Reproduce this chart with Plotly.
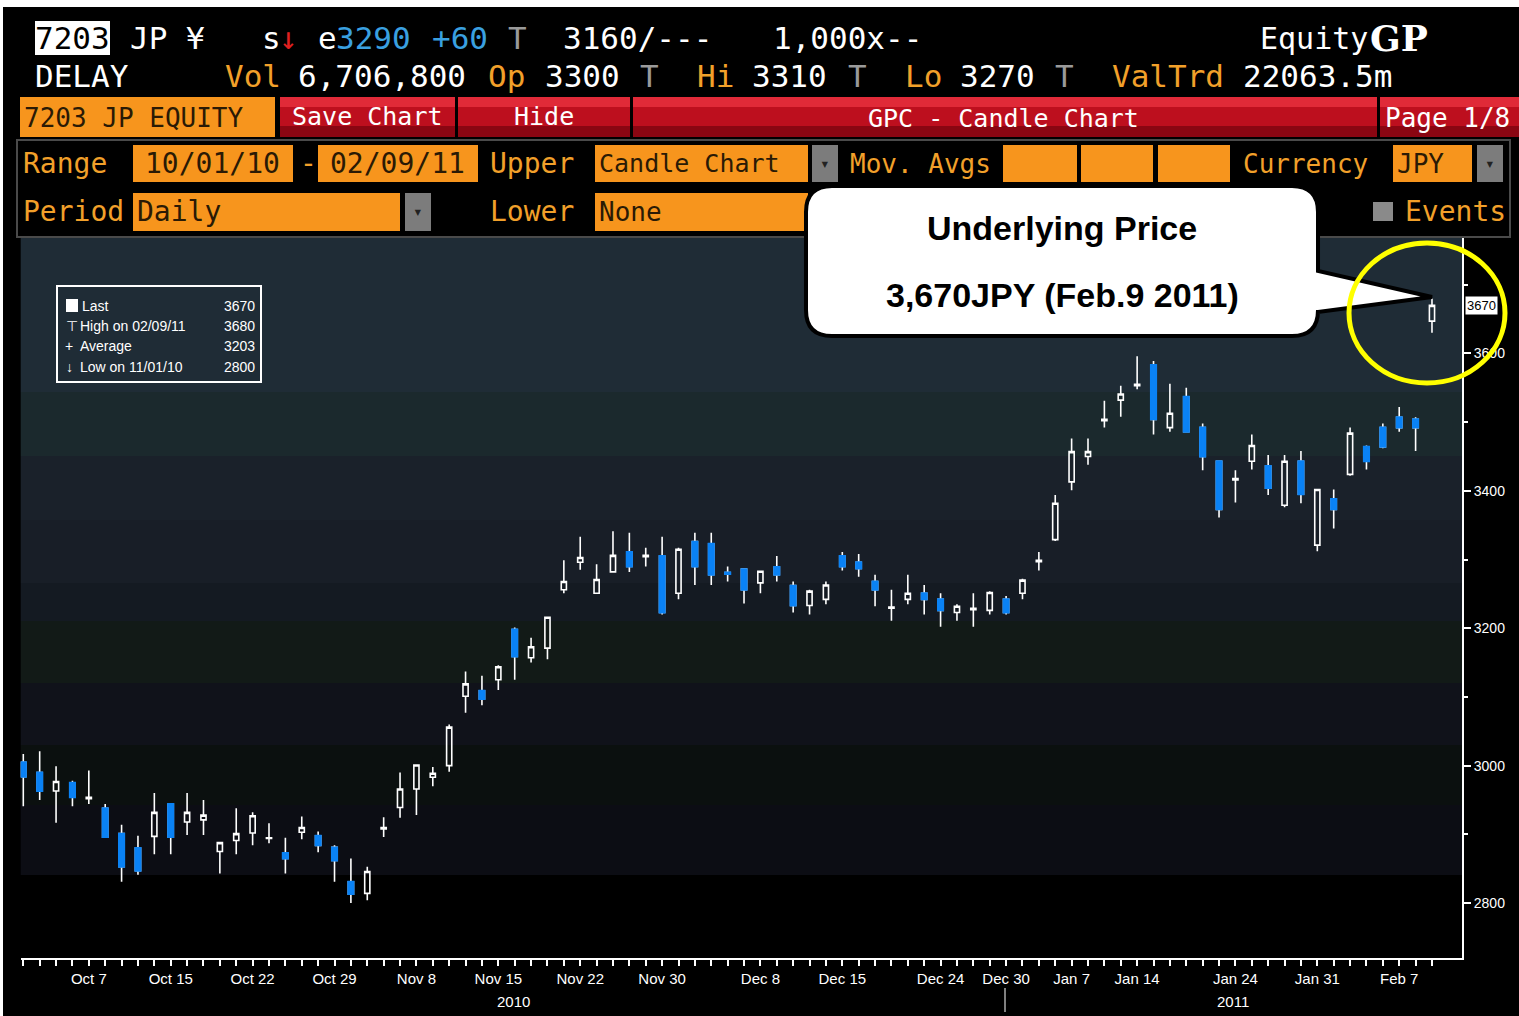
import plotly.graph_objects as go

# ---- data (7203 JP, daily, 10/01/10 - 02/09/11) ----
oct_days = [1, 4, 5, 6, 7, 8, 12, 13, 14, 15, 18, 19, 20, 21, 22, 25, 26, 27, 28, 29]
nov_days = [1, 2, 4, 5, 8, 9, 10, 11, 12, 15, 16, 17, 18, 19, 22, 24, 25, 26, 29, 30]
dec_days = [1, 2, 3, 6, 7, 8, 9, 10, 13, 14, 15, 16, 17, 20, 21, 22, 24, 27, 28, 29, 30]
jan_days = [4, 5, 6, 7, 11, 12, 13, 14, 17, 18, 19, 20, 21, 24, 25, 26, 27, 28, 31]
feb_days = [1, 2, 3, 4, 7, 8, 9]

dates = ([f"2010-10-{d:02d}" for d in oct_days] + [f"2010-11-{d:02d}" for d in nov_days]
         + [f"2010-12-{d:02d}" for d in dec_days] + [f"2011-01-{d:02d}" for d in jan_days]
         + [f"2011-02-{d:02d}" for d in feb_days])

opens = [3005, 2990, 2963, 2975, 2952, 2938, 2901, 2880, 2897, 2944,
         2918, 2921, 2875, 2891, 2902, 2894, 2873, 2903, 2898, 2881,
         2831, 2814, 2908, 2939, 2966, 2983, 3000, 3101, 3109, 3125,
         3198, 3157, 3171, 3256, 3296, 3251, 3282, 3311, 3304, 3305,
         3251, 3326, 3323, 3281, 3286, 3266, 3289, 3262, 3233, 3242,
         3305, 3296, 3268, 3229, 3242, 3251, 3242, 3223, 3227, 3226,
         3242, 3251, 3297, 3329, 3413, 3450, 3502, 3532, 3553, 3583,
         3492, 3537, 3492, 3443, 3416, 3443, 3436, 3379, 3443, 3321,
         3388, 3424, 3464, 3492, 3507, 3504, 3647]
highs = [3017, 3021, 2999, 2978, 2993, 2944, 2914, 2898, 2960, 2944,
         2960, 2950, 2888, 2938, 2932, 2916, 2895, 2926, 2904, 2884,
         2865, 2853, 2925, 2990, 3001, 2998, 3060, 3137, 3131, 3146,
         3201, 3186, 3216, 3299, 3333, 3293, 3341, 3339, 3317, 3333,
         3317, 3339, 3339, 3290, 3286, 3283, 3305, 3268, 3256, 3268,
         3311, 3308, 3278, 3256, 3278, 3263, 3251, 3235, 3251, 3254,
         3247, 3272, 3311, 3394, 3476, 3476, 3531, 3553, 3596, 3589,
         3556, 3550, 3498, 3443, 3430, 3482, 3452, 3452, 3458, 3402,
         3402, 3492, 3466, 3498, 3522, 3507, 3680]
lows = [2941, 2950, 2917, 2941, 2944, 2895, 2831, 2841, 2871, 2871,
        2899, 2899, 2843, 2871, 2884, 2887, 2843, 2893, 2874, 2831,
        2800, 2804, 2896, 2924, 2928, 2970, 2991, 3077, 3088, 3110,
        3125, 3150, 3155, 3251, 3285, 3251, 3282, 3282, 3290, 3220,
        3242, 3263, 3263, 3268, 3236, 3251, 3268, 3223, 3220, 3235,
        3284, 3275, 3232, 3211, 3235, 3220, 3202, 3211, 3202, 3220,
        3220, 3242, 3284, 3327, 3401, 3438, 3492, 3508, 3548, 3482,
        3486, 3486, 3430, 3361, 3383, 3431, 3394, 3376, 3382, 3312,
        3345, 3422, 3431, 3462, 3486, 3458, 3630]
closes = [2984, 2963, 2977, 2954, 2954, 2896, 2853, 2847, 2932, 2896,
          2932, 2928, 2888, 2901, 2927, 2895, 2865, 2910, 2884, 2862,
          2813, 2846, 2910, 2966, 3001, 2989, 3056, 3119, 3097, 3144,
          3159, 3173, 3216, 3268, 3303, 3271, 3306, 3290, 3306, 3223,
          3315, 3290, 3278, 3279, 3256, 3283, 3278, 3233, 3254, 3263,
          3290, 3287, 3256, 3231, 3251, 3242, 3226, 3232, 3229, 3252,
          3223, 3270, 3299, 3382, 3457, 3457, 3504, 3541, 3555, 3504,
          3513, 3486, 3450, 3373, 3418, 3466, 3404, 3443, 3395, 3402,
          3373, 3484, 3443, 3464, 3492, 3492, 3670]
average_label = 3203

tick_dates = ["2010-10-07", "2010-10-15", "2010-10-22", "2010-10-29", "2010-11-08",
              "2010-11-15", "2010-11-22", "2010-11-30", "2010-12-08", "2010-12-15",
              "2010-12-24", "2010-12-30", "2011-01-07", "2011-01-14", "2011-01-24",
              "2011-01-31", "2011-02-07"]
tick_text = ["Oct 7", "Oct 15", "Oct 22", "Oct 29", "Nov 8", "Nov 15", "Nov 22", "Nov 30",
             "Dec 8", "Dec 15", "Dec 24", "Dec 30", "Jan 7", "Jan 14", "Jan 24", "Jan 31", "Feb 7"]
price_ticks = [2800, 3000, 3200, 3400, 3600]

# ---- page geometry helpers (screen pixel -> paper) ----
W, H = 1519, 1016
MONO = "DejaVu Sans Mono"
SANS = "Liberation Sans"
ORANGE = "#f7951d"
ORANGE_TXT = "#f2a02a"
BOX_TXT = "#2a1a05"
BLUE = "#0a82f5"


def px(x):
    return x / W


def py(y):
    return 1 - y / H


shapes = []
annotations = []


def rect(x0, y0, x1, y1, fill, line=None, lw=0, layer="above"):
    shapes.append(dict(type="rect", xref="paper", yref="paper",
                       x0=px(x0), x1=px(x1), y0=py(y1), y1=py(y0),
                       fillcolor=fill, line=dict(color=line or fill, width=lw), layer=layer))


def text(x, y, s, color="white", size=31, family=MONO, anchor="left"):
    annotations.append(dict(xref="paper", yref="paper", x=px(x), y=py(y), text=s,
                            showarrow=False, xanchor=anchor, yanchor="middle",
                            font=dict(color=color, size=size, family=family)))


def red_button(x0, x1):
    rect(x0, 97, x1, 107, "#e02a38")
    rect(x0, 107, x1, 126, "#bd0f1e")
    rect(x0, 126, x1, 137, "#8a0612")


# screenshot frame
rect(0, 0, W, 7, "white")
rect(0, 0, 3, H, "white")

# header line 1
rect(35, 21, 110, 55, "white")
text(33, 38, "7203", "black")
text(128, 38, "JP ¥")
text(260, 38, "s")
text(277, 38, "↓", "#e02020")
text(316, 38, "e")
text(334, 38, "3290", "#3aa0e0")
text(430, 38, "+60", "#3aa0e0")
text(506, 38, "T", "#9a9a9a")
text(561, 38, "3160/---")
text(771, 38, "1,000x--")
text(1258, 38, "Equity", "white", 30)
text(1368, 38, "<b>GP</b>", "white", 36, "DejaVu Serif")

# header line 2
text(33, 76, "DELAY")
text(223, 76, "Vol", ORANGE_TXT)
text(296, 76, "6,706,800")
text(486, 76, "Op", ORANGE_TXT)
text(543, 76, "3300")
text(638, 76, "T", "#9a9a9a")
text(695, 76, "Hi", ORANGE_TXT)
text(750, 76, "3310")
text(846, 76, "T", "#9a9a9a")
text(903, 76, "Lo", ORANGE_TXT)
text(958, 76, "3270")
text(1053, 76, "T", "#9a9a9a")
text(1110, 76, "ValTrd", ORANGE_TXT)
text(1241, 76, "22063.5m")

# toolbar
rect(20, 97, 275, 137, ORANGE)
text(22, 118, "7203 JP EQUITY", BOX_TXT, 26)
red_button(280, 455)
text(367, 116, "Save Chart", "white", 25, anchor="center")
red_button(458, 630)
text(544, 116, "Hide", "white", 25, anchor="center")
red_button(633, 1377)
text(1003, 118, "GPC - Candle Chart", "white", 25, anchor="center")
red_button(1380, 1519)
text(1383, 118, "Page 1/8", "white", 26)

# option panel
rect(17, 140, 1510, 237, "rgba(0,0,0,0)", "#4a4a4a", 2)
text(21, 164, "Range", ORANGE_TXT, 28)
rect(133, 145, 293, 182, ORANGE)
text(143, 164, "10/01/10", BOX_TXT, 28)
text(298, 164, "-", ORANGE_TXT, 28)
rect(318, 145, 478, 182, ORANGE)
text(328, 164, "02/09/11", BOX_TXT, 28)
text(488, 164, "Upper", ORANGE_TXT, 28)
rect(595, 145, 808, 182, ORANGE)
text(597, 164, "Candle Chart", BOX_TXT, 25)
rect(812, 145, 838, 182, "#7c7c7c")
text(825, 164, "▾", "#222222", 16, anchor="center")
text(848, 164, "Mov. Avgs", ORANGE_TXT, 26)
rect(1003, 145, 1077, 182, ORANGE)
rect(1081, 145, 1153, 182, ORANGE)
rect(1158, 145, 1230, 182, ORANGE)
text(1241, 164, "Currency", ORANGE_TXT, 26)
rect(1393, 145, 1472, 182, ORANGE)
text(1395, 164, "JPY", BOX_TXT, 26)
rect(1477, 145, 1503, 182, "#7c7c7c")
text(1490, 164, "▾", "#222222", 16, anchor="center")

text(21, 212, "Period", ORANGE_TXT, 28)
rect(133, 193, 400, 231, ORANGE)
text(135, 212, "Daily", BOX_TXT, 28)
rect(405, 193, 431, 231, "#7c7c7c")
text(418, 212, "▾", "#222222", 16, anchor="center")
text(488, 212, "Lower", ORANGE_TXT, 28)
rect(595, 193, 808, 231, ORANGE)
text(597, 212, "None", BOX_TXT, 26)
rect(1373, 202, 1393, 221, "#8a8a8a")
text(1403, 212, "Events", ORANGE_TXT, 28)

# plot background bands
PL, PR, PT, PB = 20.7, 1462, 238, 958
bands = [(238, 392, "#1f2c36"), (392, 456, "#1b292d"), (456, 520, "#1a212a"),
         (520, 583, "#181e27"), (583, 621, "#141a22"), (621, 683, "#121a17"),
         (683, 745, "#10121a"), (745, 805, "#0b100f"), (805, 875, "#0c0d14")]
for y0, y1, c in bands:
    rect(PL, y0, PR, y1, c, layer="below")

# legend box
rect(57, 286, 261, 382, "rgba(0,0,0,0)", "white", 2)
hi_i = highs.index(max(highs))
lo_i = lows.index(min(lows))


def mdy(d):
    return f"{d[5:7]}/{d[8:10]}/{d[2:4]}"


rect(66, 299, 78, 312, "white")
text(80, 306, "Last", "white", 14, SANS)
text(257, 306, f"{closes[-1]}", "white", 14, SANS, "right")
text(64, 326, "⊤", "white", 14, SANS)
text(78, 326, f"High on {mdy(dates[hi_i])}", "white", 14, SANS)
text(257, 326, f"{max(highs)}", "white", 14, SANS, "right")
text(63, 346, "+", "white", 14, SANS)
text(78, 346, "Average", "white", 14, SANS)
text(257, 346, f"{average_label}", "white", 14, SANS, "right")
text(64, 367, "↓", "white", 14, SANS)
text(78, 367, f"Low on {mdy(dates[lo_i])}", "white", 14, SANS)
text(257, 367, f"{min(lows)}", "white", 14, SANS, "right")

# year labels under the date axis
text(513, 1001, "2010", "white", 15, SANS, "center")
text(1233, 1001, "2011", "white", 15, SANS, "center")
shapes.append(dict(type="line", xref="paper", yref="paper", x0=px(1005), x1=px(1005),
                   y0=py(1012), y1=py(988), line=dict(color="white", width=1)))

# callout bubble with pointer
L, T, R, B, r = 806, 186, 1318, 336, 26
pts = [("M", L + r, T), ("L", R - r, T), ("Q", R, T, R, T + r), ("L", R, 271), ("L", 1432, 297),
       ("L", R, 312), ("L", R, B - r), ("Q", R, B, R - r, B), ("L", L + r, B),
       ("Q", L, B, L, B - r), ("L", L, T + r), ("Q", L, T, L + r, T)]
path = ""
for p in pts:
    cmd, coords = p[0], p[1:]
    pairs = [f"{px(coords[k]):.5f},{py(coords[k + 1]):.5f}" for k in range(0, len(coords), 2)]
    path += cmd + " ".join(pairs) + " "
shapes.append(dict(type="path", xref="paper", yref="paper", path=path + "Z",
                   fillcolor="white", line=dict(color="black", width=4), layer="above"))
text(1062, 228, "<b>Underlying Price</b>", "black", 34, SANS, "center")
text(1062, 295, "<b>3,670JPY (Feb.9 2011)</b>", "black", 34, SANS, "center")

# highlight ellipse
shapes.append(dict(type="circle", xref="paper", yref="paper", x0=px(1349), x1=px(1505),
                   y0=py(383), y1=py(243), line=dict(color="#ffff00", width=5), layer="above"))

# ---- chart ----
fig = go.Figure()
fig.add_trace(go.Candlestick(
    x=dates, open=opens, high=highs, low=lows, close=closes,
    increasing=dict(line=dict(color="white", width=1.6), fillcolor="rgba(0,0,0,0)"),
    decreasing=dict(line=dict(color="white", width=1.6), fillcolor=BLUE),
    whiskerwidth=0, hoverinfo="skip", showlegend=False
))
down = [i for i in range(len(dates)) if closes[i] < opens[i]]
fig.add_trace(go.Candlestick(
    x=[dates[i] for i in down], open=[opens[i] for i in down], high=[opens[i] for i in down],
    low=[closes[i] for i in down], close=[closes[i] for i in down],
    increasing=dict(line=dict(color=BLUE, width=2), fillcolor=BLUE),
    decreasing=dict(line=dict(color=BLUE, width=2), fillcolor=BLUE),
    whiskerwidth=0, hoverinfo="skip", showlegend=False
))

annotations.append(dict(xref="paper", yref="y", x=px(1465), y=closes[-1], text=f"{closes[-1]}",
                        showarrow=False, xanchor="left", yanchor="middle", bgcolor="white",
                        font=dict(color="black", size=13, family=SANS), borderpad=1))

fig.update_xaxes(
    type="category", domain=[px(PL), px(PR)],
    range=[(PL - 23.3) / 16.38, (PR - 23.3) / 16.38],
    tickvals=dates, ticktext=[tick_text[tick_dates.index(d)] if d in tick_dates else "" for d in dates],
    ticks="outside", ticklen=6, tickwidth=1.5, tickcolor="white",
    showline=True, linecolor="white", linewidth=2, showgrid=False, zeroline=False,
    tickfont=dict(color="white", size=15, family=SANS),
    rangeslider=dict(visible=False), fixedrange=True
)
fig.update_yaxes(
    side="right", domain=[py(PB), py(PT)], range=[2720, 3768],
    tickvals=price_ticks, ticks="outside", ticklen=7, tickwidth=2, tickcolor="white",
    minor=dict(dtick=100, ticks="outside", ticklen=4, tickcolor="white", tickwidth=1.5),
    showline=True, linecolor="white", linewidth=2, showgrid=False, zeroline=False,
    tickfont=dict(color="white", size=14, family=SANS)
)
fig.update_layout(
    template="none", width=W, height=H, margin=dict(l=0, r=0, t=0, b=0), autosize=False,
    paper_bgcolor="black", plot_bgcolor="black", boxgap=0.55,
    shapes=shapes, annotations=annotations, showlegend=False
)

# page body margin off so the figure sits at the window's top-left corner
fig.write_html("out.html", config={"displayModeBar": False},
               post_script="document.body.style.margin='0px';")
